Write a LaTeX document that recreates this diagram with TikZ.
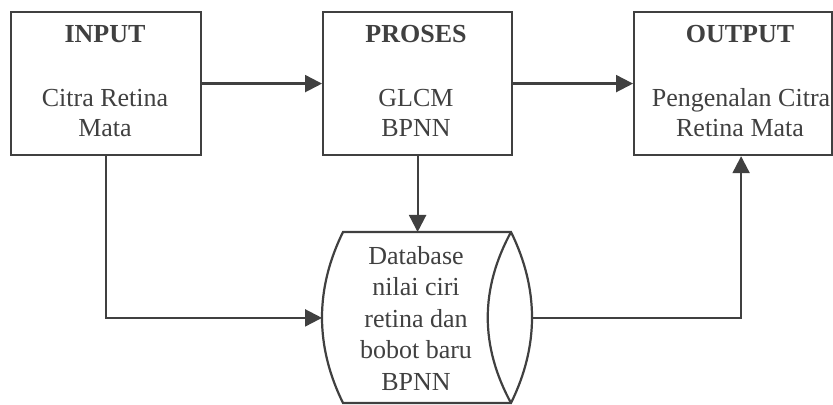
\documentclass[tikz,border=0pt]{standalone}
\usepackage{fontspec}
\setmainfont{Liberation Serif}
\usetikzlibrary{arrows.meta}
\definecolor{ink}{HTML}{404040}
\begin{document}
\begin{tikzpicture}[x=0.5pt,y=-0.5pt,
  box/.style={draw=ink,line width=1.1pt,fill=white,minimum height=71.5pt,inner sep=0pt,anchor=north west},
  txt/.style={text=ink,font=\fontsize{13}{15}\selectfont,anchor=base,inner sep=0pt},
  ttl/.style={txt,font=\fontsize{13}{15}\selectfont\bfseries},
  conn/.style={draw=ink,line width=1.1pt,-{Triangle[length=8.5pt,width=8.5pt]}},
  line/.style={draw=ink,line width=1.1pt}]
\fill[white] (0,0) rectangle (833,405);
\useasboundingbox (0,0) rectangle (833,405);
% boxes
\node[box,minimum width=95pt] (input) at (10,11) {};
\node[box,minimum width=94.5pt] (proses) at (322,11) {};
\node[box,minimum width=99pt] (output) at (633,11) {};
% box texts
\node[ttl] (t1) at (105,43) {INPUT};
\node[txt] (t1a) at (105,107) {Citra Retina};
\node[txt] (t1b) at (105,137) {Mata};
\node[ttl] (t2) at (416,43) {PROSES};
\node[txt] (t2a) at (416,107) {GLCM};
\node[txt] (t2b) at (416,137) {BPNN};
\node[ttl] (t3) at (740,43) {OUTPUT};
\node[txt] (t3a) at (741,107) {Pengenalan Citra};
\node[txt] (t3b) at (740,137) {Retina Mata};
% database
\node[minimum width=105pt,minimum height=85.5pt,inner sep=0pt,anchor=north west] (db) at (322,232) {};
\draw[line,fill=white] (343,232) -- (511,232) .. controls (539,289) and (539,346) .. (511,403)
  -- (343,403) .. controls (315,346) and (315,289) .. (343,232) -- cycle;
\draw[line] (511,232) .. controls (480,289) and (480,346) .. (511,403);
\node[txt] (d1) at (416,264) {Database};
\node[txt] (d2) at (416,295) {nilai ciri};
\node[txt] (d3) at (416,327) {retina dan};
\node[txt] (d4) at (416,358) {bobot baru};
\node[txt] (d5) at (416,390) {BPNN};
% connectors
\draw[conn] (input.east) -- (proses.west);
\draw[conn] (proses.east) -- (output.west);
\draw[conn] (proses.south) -- (proses.south |- db.north);
\draw[conn] (input.south) |- (db.west);
\draw[conn] (db.east) -| ([xshift=4pt]output.south);
\end{tikzpicture}
\end{document}
